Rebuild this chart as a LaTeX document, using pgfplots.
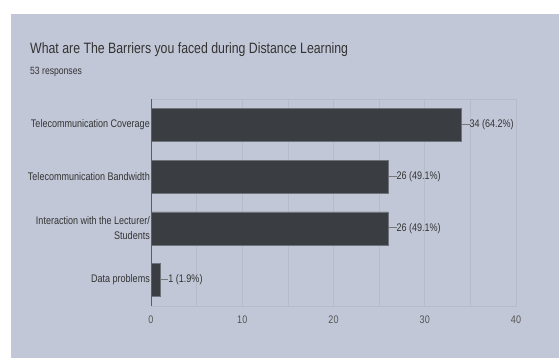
\documentclass[border=0pt]{standalone}
\usepackage{fontspec}
\setmainfont{Liberation Sans}[FakeStretch=0.82]
\usepackage{pgfplots}
\pgfplotsset{compat=1.18}
\definecolor{panel}{HTML}{C1C7D6}
\definecolor{barc}{HTML}{3A3D42}
\definecolor{baredge}{HTML}{6E727A}
\definecolor{gridc}{HTML}{B5BBCA}
\definecolor{txt}{HTML}{333333}
\definecolor{ticktxt}{HTML}{555555}
\definecolor{leader}{HTML}{777777}
\definecolor{axisc}{HTML}{5A5D63}
\begin{document}
\begin{tikzpicture}
\fill[white] (0pt,0pt) rectangle (559pt,358pt);
\fill[panel] (11pt,0pt) rectangle (559pt,344pt);
\node[anchor=base west, font=\fontsize{15}{17}\selectfont, text=txt, inner sep=0] at (30pt,304pt) {What are The Barriers you faced during Distance Learning};
\node[anchor=base west, font=\fontsize{10.5}{12}\selectfont, text=txt, inner sep=0] at (30pt,283pt) {53 responses};
\begin{axis}[
  at={(151pt,52pt)}, anchor=south west, scale only axis,
  width=365pt, height=207pt,
  xmin=0, xmax=40, ymin=-0.5, ymax=3.5,
  y dir=reverse,
  xbar, bar width=33pt,
  xtick={0,10,20,30,40},
  minor x tick num=1,
  xmajorgrids, xminorgrids,
  grid style={draw=gridc, line width=0.6pt},
  minor grid style={draw=gridc, line width=0.6pt},
  axis line style={draw=gridc, line width=0.6pt},
  major tick length=0pt, minor tick length=0pt,
  ytick={0,1,2,3},
  yticklabels={Telecommunication Coverage, Telecommunication Bandwidth, {Interaction with the Lecturer/\\Students}, Data problems},
  yticklabel style={align=right, font=\fontsize{11}{15}\selectfont, text=txt, inner sep=1pt},
  xticklabel style={font=\fontsize{11}{13}\selectfont, text=ticktxt, yshift=-6pt},
  /pgf/number format/assume math mode=true,
  point meta=explicit symbolic,
  nodes near coords={\textcolor{leader}{\rule[0.55ex]{8pt}{0.6pt}}\pgfplotspointmeta},
  nodes near coords style={anchor=west, inner sep=0pt, xshift=0pt, font=\fontsize{11}{13}\selectfont, text=txt},
  clip=false,
]
\addplot[fill=barc, draw=baredge, line width=0.6pt] table[x=v, y=i, meta=lab, col sep=comma] {
i,v,lab
0,34,34 (64.2\%)
1,26,26 (49.1\%)
2,26,26 (49.1\%)
3,1,1 (1.9\%)
};
\draw[draw=axisc, line width=1pt] (axis cs:0,-0.5) -- (axis cs:0,3.5);
\end{axis}
\end{tikzpicture}
\end{document}
